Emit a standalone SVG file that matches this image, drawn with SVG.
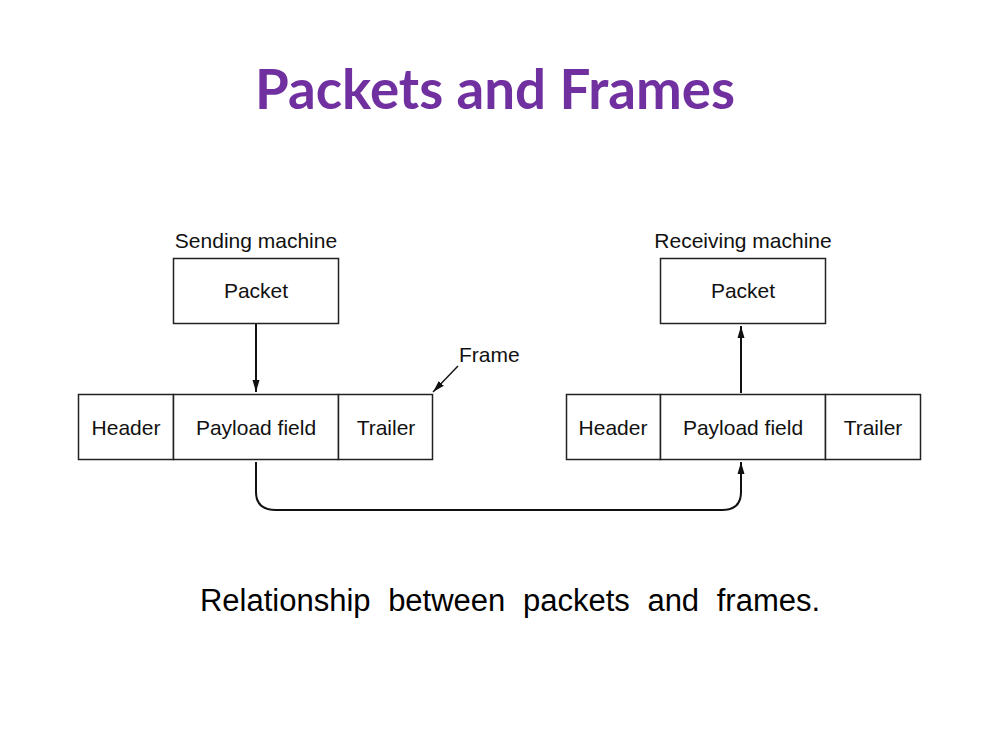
<svg xmlns="http://www.w3.org/2000/svg" width="990" height="756" viewBox="0 0 990 756">
<defs>
<style>
.box{fill:#fff;stroke:#222;stroke-width:1.5}
.lbl{font-family:"Liberation Sans",Arial,sans-serif;font-size:21px;fill:#111;text-anchor:middle}
.line{fill:none;stroke:#111;stroke-width:2}
.thin{fill:none;stroke:#111;stroke-width:1.4}
</style>
<marker id="ah" viewBox="0 0 12 10" refX="12" refY="5" markerWidth="12" markerHeight="10" markerUnits="userSpaceOnUse" orient="auto">
<path d="M0,1.5 L12,5 L0,8.5 Z" fill="#111"/>
</marker>
<marker id="ahs" viewBox="0 0 12 10" refX="12" refY="5" markerWidth="12" markerHeight="10" markerUnits="userSpaceOnUse" orient="auto">
<path d="M0,1.5 L12,5 L0,8.5 Z" fill="#111"/>
</marker>
</defs>
<rect width="990" height="756" fill="#fff"/>
<text x="495" y="109" font-family="Lato,'Open Sans',sans-serif" font-weight="bold" font-size="56" fill="#7030A0" text-anchor="middle" textLength="480" lengthAdjust="spacingAndGlyphs">Packets and Frames</text>

<g id="send-label"><text class="lbl" x="256" y="248">Sending machine</text></g>
<g id="send-packet"><rect class="box" x="173.5" y="258.5" width="165" height="65"/><text class="lbl" x="256" y="298">Packet</text></g>
<g id="send-header"><rect class="box" x="78.5" y="394.5" width="95" height="65"/><text class="lbl" x="126" y="435">Header</text></g>
<g id="send-payload"><rect class="box" x="173.5" y="394.5" width="165" height="65"/><text class="lbl" x="256" y="435">Payload field</text></g>
<g id="send-trailer"><rect class="box" x="338.5" y="394.5" width="94" height="65"/><text class="lbl" x="386" y="435">Trailer</text></g>
<g id="frame-label"><text class="lbl" x="459" y="362" style="text-anchor:start">Frame</text></g>

<g id="recv-label"><text class="lbl" x="743" y="248">Receiving machine</text></g>
<g id="recv-packet"><rect class="box" x="660.5" y="258.5" width="165" height="65"/><text class="lbl" x="743" y="298">Packet</text></g>
<g id="recv-header"><rect class="box" x="566.5" y="394.5" width="94" height="65"/><text class="lbl" x="613" y="435">Header</text></g>
<g id="recv-payload"><rect class="box" x="660.5" y="394.5" width="165" height="65"/><text class="lbl" x="743" y="435">Payload field</text></g>
<g id="recv-trailer"><rect class="box" x="825.5" y="394.5" width="95" height="65"/><text class="lbl" x="873" y="435">Trailer</text></g>

<g id="connectors">
<path class="line" d="M256,324 L256,392" marker-end="url(#ah)"/>
<path class="line" d="M741,393 L741,326" marker-end="url(#ah)"/>
<path class="thin" d="M458,366 L433,392" marker-end="url(#ahs)"/>
<path class="line" d="M256,462 L256,492 Q256,510 276,510 L722,510 Q741,510 741,492 L741,462" marker-end="url(#ah)"/>
</g>

<text x="510" y="611" font-family="'Liberation Sans',Arial,sans-serif" font-size="31" fill="#000" text-anchor="middle" word-spacing="9">Relationship between packets and frames.</text>
</svg>
